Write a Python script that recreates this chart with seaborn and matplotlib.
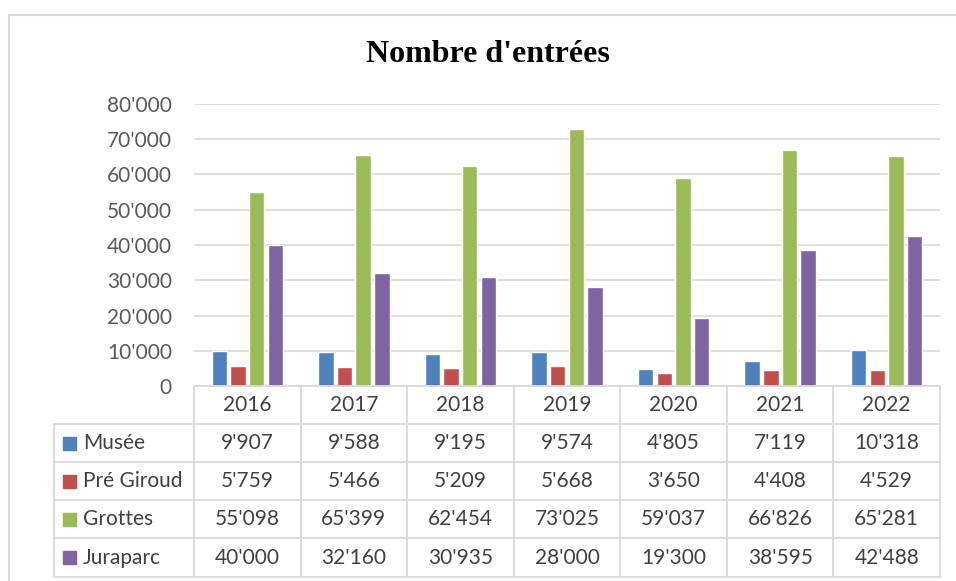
import numpy as np
import pandas as pd
import matplotlib
matplotlib.use("Agg")
import matplotlib.pyplot as plt
import seaborn as sns
from matplotlib.lines import Line2D
from matplotlib.patches import Rectangle
import matplotlib.ticker as ticker

years = ["2016", "2017", "2018", "2019", "2020", "2021", "2022"]
series_names = ["Musée", "Pré Giroud", "Grottes", "Juraparc"]
musee = [9907, 9588, 9195, 9574, 4805, 7119, 10318]
pre_giroud = [5759, 5466, 5209, 5668, 3650, 4408, 4529]
grottes = [55098, 65399, 62454, 73025, 59037, 66826, 65281]
juraparc = [40000, 32160, 30935, 28000, 19300, 38595, 42488]
colors = ["#4F81BD", "#C0504D", "#9BBB59", "#8064A2"]

df = pd.DataFrame({"year": years * 4,
                   "site": sum([[s] * len(years) for s in series_names], []),
                   "value": musee + pre_giroud + grottes + juraparc})

sns.set_style("white")
plt.rcParams["font.family"] = ["Lato", "DejaVu Sans"]

W, H = 956, 581
fig = plt.figure(figsize=(W / 100, H / 100), dpi=100)

def fx(px):
    return px / W

def fy(py):
    return 1 - py / H

# plot area in pixel coords of the reference
left, right, top, bottom = 194, 940, 104, 386
ax = fig.add_axes([fx(left), fy(bottom), fx(right - left), (bottom - top) / H])
sns.barplot(data=df, x="year", y="value", hue="site", palette=colors,
            width=0.7, gap=0.17, ax=ax, legend=False, saturation=1)
ax.set_ylim(0, 80000)
ax.set_xlim(-0.5, len(years) - 0.5)
ax.set_yticks(np.arange(0, 80001, 10000))
ax.yaxis.set_major_formatter(ticker.FuncFormatter(
    lambda v, p: "0" if v == 0 else f"{int(v):,}".replace(",", "'")))
ax.tick_params(axis="y", length=0, pad=16, labelsize=15, labelcolor="#595959")
ax.set_xticks([])
ax.set_xlabel("")
ax.set_ylabel("")
ax.grid(axis="y", color="#D9D9D9", linewidth=1.2)
ax.set_axisbelow(True)
for s in ax.spines.values():
    s.set_visible(False)

# overlay in pixel coords for title, border and data table
ov = fig.add_axes([0, 0, 1, 1], zorder=5)
ov.set_xlim(0, W)
ov.set_ylim(H, 0)
ov.axis("off")
ov.patch.set_alpha(0)

# chart border
ov.add_line(Line2D([9, 9, W], [H, 14.5, 14.5], color="#D9D9D9", lw=1.5))

ov.text(488, 55, "Nombre d'entrées", family="Liberation Serif", weight="bold",
        fontsize=23, ha="center", va="center", color="black")

grid_c = "#D9D9D9"
lw = 1.3
col_w = (right - left) / len(years)
row_tops = [386, 424, 462, 500, 538, 577]
tab_left = 54
text_c = "#404040"

# header row
ov.add_line(Line2D([left, right], [row_tops[0], row_tops[0]], color=grid_c, lw=lw))
for i in range(len(years) + 1):
    x = left + i * col_w
    ov.add_line(Line2D([x, x], [row_tops[0], row_tops[-1]], color=grid_c, lw=lw))
for j in range(1, len(row_tops)):
    y = row_tops[j]
    ov.add_line(Line2D([tab_left, right], [y, y], color=grid_c, lw=lw))
ov.add_line(Line2D([tab_left, tab_left], [row_tops[1], row_tops[-1]], color=grid_c, lw=lw))

for i, yr in enumerate(years):
    ov.text(left + (i + 0.5) * col_w, (row_tops[0] + row_tops[1]) / 2, yr,
            ha="center", va="center", fontsize=15, color=text_c)

all_series = [musee, pre_giroud, grottes, juraparc]
for j, (name, vals, c) in enumerate(zip(series_names, all_series, colors)):
    yc = (row_tops[j + 1] + row_tops[j + 2]) / 2
    ov.add_patch(Rectangle((63, yc - 6.5), 13, 13, color=c))
    ov.text(83, yc, name, ha="left", va="center", fontsize=15, color=text_c)
    for i, v in enumerate(vals):
        ov.text(left + (i + 0.5) * col_w, yc, f"{v:,}".replace(",", "'"),
                ha="center", va="center", fontsize=15, color=text_c)

fig.savefig("out.png", dpi=100)
